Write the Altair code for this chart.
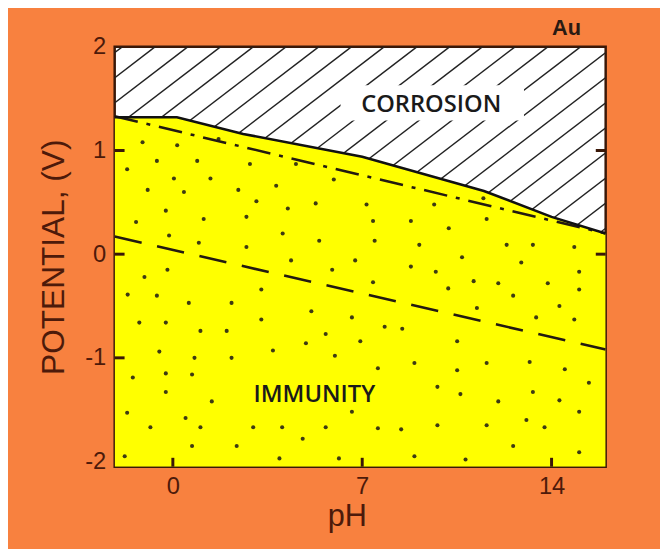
import altair as alt
import numpy as np
import pandas as pd

# ---- axis ranges / ticks ----
PH_MIN, PH_MAX = -2.15, 16.0
V_MIN, V_MAX = -2.05, 2.0
x_ticks = [0, 7, 14]
y_ticks = [-2, -1, 0, 1, 2]
left_ticks_v = [-1, 0, 1]
right_ticks_v = [0, 1]

# ---- corrosion / immunity boundary ----
boundary_ph = [-2.15, 0.15, 2.6, 7.0, 11.5, 14.0, 16.0]
boundary_v = [1.32, 1.32, 1.16, 0.94, 0.61, 0.36, 0.20]

# ---- water stability lines (a: O2, b: H2) ----
line_a_ph = [-2.15, 16.0]
line_a_v = [1.33, 0.20]
line_b_ph = [-2.15, 16.0]
line_b_v = [0.17, -0.92]

# ---- stipple dots in the immunity field ----
dots_ph = [-1.12, 0.16, -0.59, 0.90, 2.85, -1.69, 0.04, 1.39, -0.93, 0.41, 2.42, 3.82, 3.09, -0.26,
           4.25, 5.28, -1.36, 1.14, 2.72, -0.14, 4.06, 5.41, 0.96, 2.72, 4.37, 5.89, -1.05, -0.20,
           6.74, 5.95, 1.69, 4.55,
           7.16, 7.40, 8.80, 10.20, 7.46, 9.11, 11.60, 9.66, 10.69, 12.34, 13.31, 14.84, 12.88, 8.80,
           9.72, 7.40, 11.12, 12.03, 13.86, 15.02, 11.48,
           -1.67, -0.59, 0.59, 2.17, 3.27, -1.24, -0.26, 1.02, 1.99, 3.27, 5.12, 6.62, 5.65, -0.50,
           0.80, 2.17, 3.70, 4.92, 5.99, -1.48, -0.26, 0.71, -0.26, 1.44, -1.69, 0.47, -0.83, 1.02,
           2.97, 4.04, 5.65, 6.62, 0.71, 2.36, 4.80, -1.78, 3.94, 6.14, 6.93,
           10.18, 12.58, 15.02, 14.29, 11.24, 14.84, 13.43, 7.83, 8.48, 10.51, 8.93, 7.58, 10.51,
           11.60, 13.19, 14.49, 15.38, 9.78, 10.63, 13.31, 12.03, 14.29, 15.02, 7.58, 8.44, 9.78,
           11.60, 13.07, 13.74, 12.58, 8.93, 10.82, 15.02]
dots_v = [1.08, 1.05, 0.90, 0.90, 0.87, 0.82, 0.73, 0.73, 0.62, 0.60, 0.62, 0.66, 0.51, 0.42,
          0.44, 0.49, 0.31, 0.34, 0.36, 0.18, 0.20, 0.13, 0.11, 0.07, -0.06, -0.15, -0.22, -0.15,
          -0.06, 0.72, 1.11, 0.87,
          0.48, 0.32, 0.32, 0.25, 0.13, 0.09, 0.34, 0.48, -0.03, 0.09, 0.09, 0.07, -0.08, -0.12,
          -0.17, -0.27, -0.26, -0.28, -0.28, -0.17, 0.54,
          -0.39, -0.40, -0.47, -0.47, -0.34, -0.66, -0.66, -0.74, -0.74, -0.63, -0.55, -0.61, -0.77, -0.94,
          -1.00, -1.00, -0.93, -0.86, -0.98, -1.19, -1.15, -1.16, -1.33, -1.42, -1.53, -1.58, -1.67, -1.67,
          -1.67, -1.67, -1.67, -1.52, -1.85, -1.85, -1.78, -1.95, -1.97, -1.97, -0.84,
          -0.33, -0.40, -0.34, -0.50, -0.52, -0.63, -0.61, -0.70, -0.72, -0.84, -1.05, -1.10, -1.12,
          -1.05, -1.04, -1.11, -1.24, -1.28, -1.35, -1.33, -1.42, -1.41, -1.52, -1.68, -1.69, -1.65,
          -1.65, -1.60, -1.67, -1.85, -1.95, -1.98, -1.91]

# ---- region labels ----
label_text = ["CORROSION", "IMMUNITY"]
label_ph = [9.55, 5.23]
label_v = [1.44, -1.36]
element_text = ["Au"]
element_ph = [14.55]
element_v = [2.18]

# clear zone behind CORROSION label
clear_ph = [6.2]
clear_ph2 = [12.98]
clear_v = [1.63]
clear_v2 = [1.29]

# ---- hatch texture of the corrosion field ----
HATCH_SLOPE = 0.2      # V per pH unit
HATCH_STEP = 1.21      # pH spacing along the top edge
hatch_top = np.arange(-0.66 - 3 * HATCH_STEP, 26.0, HATCH_STEP)
hatch_df = pd.DataFrame({
    "ph": hatch_top - (V_MAX - V_MIN) / HATCH_SLOPE,
    "v": V_MIN,
    "ph2": hatch_top,
    "v2": V_MAX,
})

ORANGE = "#F8813F"
YELLOW = "#FFFF00"
DARK = "#231a10"
AXIS_TXT = "#4d1a0a"

xs = alt.Scale(domain=[PH_MIN, PH_MAX], nice=False, zero=False)
ys = alt.Scale(domain=[V_MIN, V_MAX], nice=False, zero=False)
x_enc = alt.X("ph:Q", scale=xs, axis=alt.Axis(values=x_ticks, title="pH", labelFontSize=24,
                                                labelPadding=8, titleFontSize=31, titlePadding=4,
                                                titleX=235, labelExpr="'' + datum.value"))
y_enc = alt.Y("v:Q", scale=ys, axis=alt.Axis(values=y_ticks, title="POTENTIAL, (V)", labelFontSize=24,
                                               labelPadding=9, titleFontSize=32, titlePadding=14,
                                               titleFont="Liberation Sans Narrow, Liberation Sans, Arial",
                                               labelFlush=False, labelExpr="'' + datum.value"))

hatch = alt.Chart(hatch_df).mark_rule(clip=True, color="#222222", strokeWidth=1.4).encode(
    x=x_enc, y=y_enc, x2="ph2:Q", y2="v2:Q")

clear = alt.Chart(pd.DataFrame({"ph": clear_ph, "ph2": clear_ph2, "v": clear_v, "v2": clear_v2})).mark_rect(
    color="white").encode(x=x_enc, y=y_enc, x2="ph2:Q", y2="v2:Q")

bdf = pd.DataFrame({"ph": boundary_ph, "v": boundary_v, "vb": [V_MIN] * len(boundary_ph)})
immunity = alt.Chart(bdf).mark_area(color=YELLOW, clip=True, opacity=1).encode(x=x_enc, y=y_enc, y2="vb:Q")

dots = alt.Chart(pd.DataFrame({"ph": dots_ph, "v": dots_v})).mark_circle(
    color="#3d3a12", size=17, opacity=1).encode(x=x_enc, y=y_enc)

line_a = alt.Chart(pd.DataFrame({"ph": line_a_ph, "v": line_a_v})).mark_line(
    color=DARK, strokeWidth=2.6, strokeDash=[24, 9, 4, 9], clip=True).encode(x=x_enc, y=y_enc)
line_b = alt.Chart(pd.DataFrame({"ph": line_b_ph, "v": line_b_v})).mark_line(
    color=DARK, strokeWidth=2.6, strokeDash=[28, 16], clip=True).encode(x=x_enc, y=y_enc)

boundary = alt.Chart(bdf).mark_line(color="#111111", strokeWidth=2.6, clip=True).encode(
    x=x_enc, y=y_enc)

tick_col = "#3a1808"
xt = alt.Chart(pd.DataFrame({"ph": x_ticks})).mark_rule(color=tick_col, strokeWidth=3).encode(
    x=x_enc, y=alt.value(425), y2=alt.value(416))
ytl = alt.Chart(pd.DataFrame({"v": left_ticks_v})).mark_rule(color=tick_col, strokeWidth=3).encode(
    y=y_enc, x=alt.value(0), x2=alt.value(10))
ytr = alt.Chart(pd.DataFrame({"v": right_ticks_v})).mark_rule(color=tick_col, strokeWidth=3).encode(
    y=y_enc, x=alt.value(487), x2=alt.value(497))

labels = alt.Chart(pd.DataFrame({"ph": label_ph, "v": label_v, "t": label_text})).mark_text(
    font="Open Sans", fontWeight=600, fontSize=24, color="#1a1a1a", align="center", baseline="middle").encode(
    x=x_enc, y=y_enc, text="t:N")
element = alt.Chart(pd.DataFrame({"ph": element_ph, "v": element_v, "t": element_text})).mark_text(
    font="Liberation Sans", fontWeight="bold", fontSize=22, color="#2a1a12", align="center",
    baseline="middle").encode(x=x_enc, y=y_enc, text="t:N")

chart = alt.layer(hatch, clear, immunity, dots, line_a, line_b, boundary, xt, ytl, ytr, labels, element).properties(
    width=497, height=425,
    autosize=alt.AutoSizeParams(type="none"),
    padding={"left": 108, "top": 36, "right": 55, "bottom": 80},
    background=ORANGE,
).configure_view(
    fill="white", stroke="#3a1808", strokeWidth=2.5
).configure_axis(
    grid=False, domain=False, ticks=False,
    labelColor=AXIS_TXT, titleColor=AXIS_TXT,
    labelFont="Liberation Sans", titleFont="Liberation Sans",
    titleFontWeight="normal",
)

chart.save("out.html", embed_options={"renderer": "svg", "actions": False})
